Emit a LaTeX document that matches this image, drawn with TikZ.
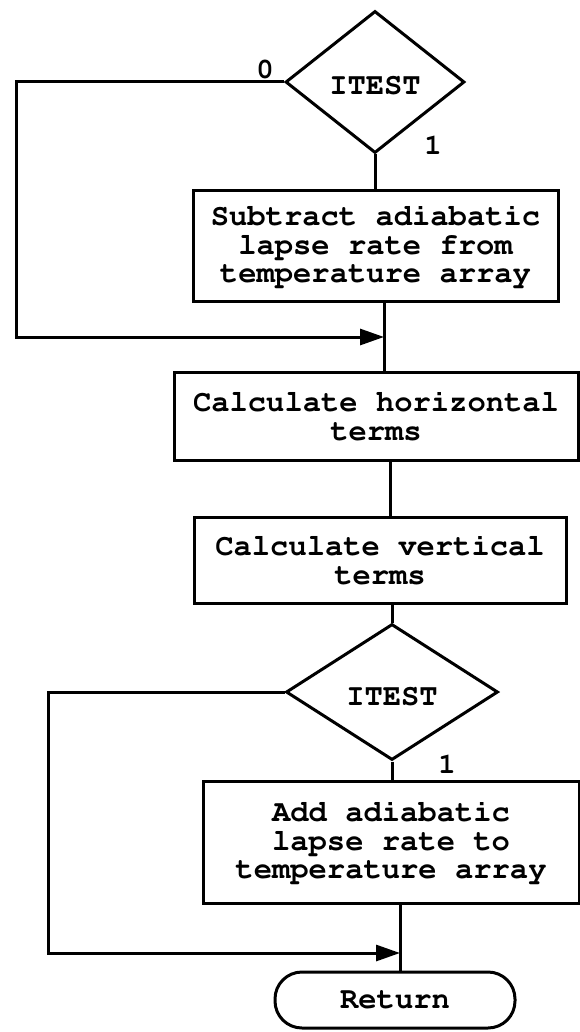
\documentclass[tikz,border=0pt]{standalone}
\usepackage[T1]{fontenc}
\usepackage{courier}
\usetikzlibrary{shapes.geometric,arrows.meta}
\begin{document}
\begin{tikzpicture}[x=1pt,y=-1pt,
  line width=3pt,
  every node/.style={font=\ttfamily\bfseries\fontsize{30.5}{28.5}\selectfont, inner sep=0pt},
  procbox/.style={draw, rectangle, align=center},
  decision/.style={draw, diamond, aspect=1.25},
  term/.style={draw, rectangle, rounded corners=27pt, minimum width=240pt, minimum height=56pt},
  lbl/.style={font=\ttfamily\bfseries\fontsize{29}{29}\selectfont},
  flowarrow/.style={-{Triangle[length=24pt,width=16pt]}}
]
\path[use as bounding box] (0,0) rectangle (579,1032);

\node[decision, minimum width=179pt, minimum height=142pt] (d1) at (375,82) {};
\node (t1) at (375,86) {ITEST};
\node[procbox, minimum width=365pt, minimum height=110pt] (b1) at (375.5,246)
  {Subtract adiabatic\\lapse rate from\\temperature array};
\node[procbox, minimum width=404pt, minimum height=88pt] (b2) at (376,416)
  {Calculate horizontal\\terms};
\node[procbox, minimum width=372pt, minimum height=86pt] (b3) at (380,560)
  {Calculate vertical\\terms};
\node[decision, minimum width=212pt, minimum height=136pt] (d2) at (392,692) {};
\node (t2) at (392,697) {ITEST};
\node[procbox, minimum width=376pt, minimum height=122pt] (b4) at (391,842)
  {Add adiabatic\\lapse rate to\\temperature array};
\node[term] (ret) at (395,1000) {Return};

\node[lbl] (l0) at (265,70) {0};
\node[lbl] (l1) at (433,145) {1};
\node[lbl] (l2) at (447,764) {1};

\coordinate (j1) at (384,337);
\coordinate (c23) at (390,0);
\coordinate (j2) at (400,953);
\coordinate (a1) at (16,87);
\coordinate (a2) at (16,337);
\coordinate (e1) at (48,687);
\coordinate (e2) at (48,953);

% main flow
\draw (d1.south) -- (d1.south |- b1.north);
\draw (j1 |- b1.south) -- (j1 |- b2.north);
\draw (c23 |- b2.south) -- (c23 |- b3.north);
\draw (d2.north |- b3.south) -- (d2.north);
\draw (d2.south) -- (d2.south |- b4.north);
\draw (j2 |- b4.south) -- (j2 |- ret.north);

% bypass branches
\draw[flowarrow, line join=miter] (d1.west) -- (a1 |- d1.west) -- (a2) -- (j1);
\draw[flowarrow, line join=miter] (d2.west) -- (e1 |- d2.west) -- (e2) -- (j2);
\end{tikzpicture}
\end{document}
